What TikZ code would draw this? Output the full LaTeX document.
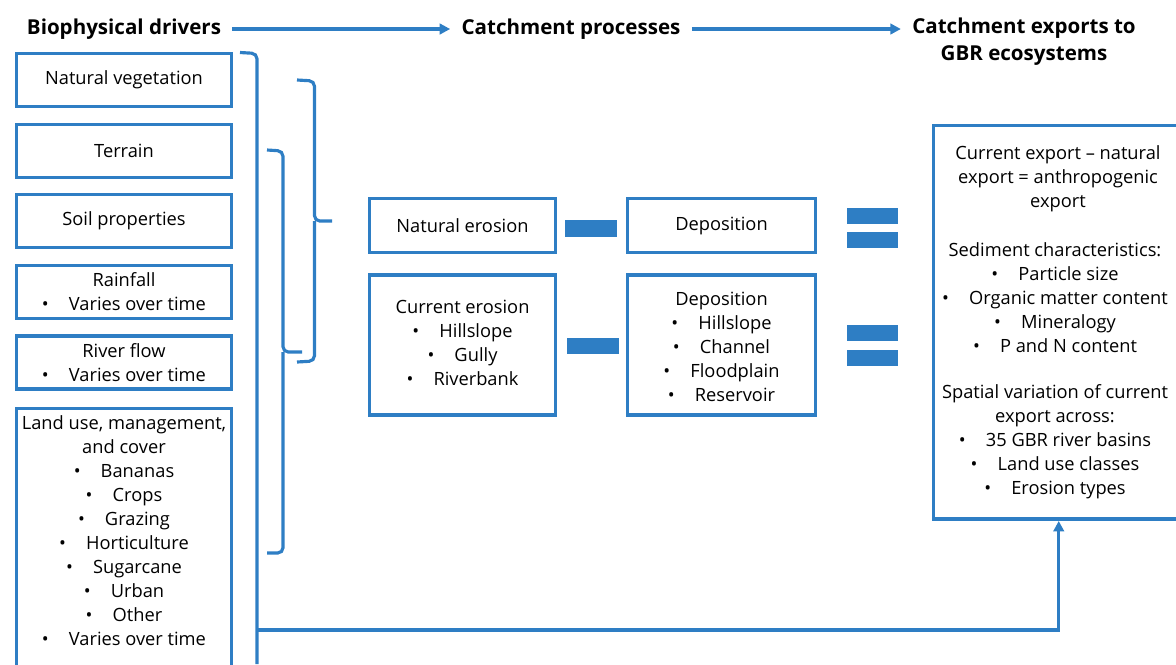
\documentclass[tikz,border=0pt]{standalone}
\usepackage{fontspec}
\setmainfont{Open Sans}
\usepackage{xcolor}
\usepackage{tikz}
\usetikzlibrary{arrows.meta}
\definecolor{gbrblue}{RGB}{46,126,196}
\newcommand{\bitem}[1]{\textbullet\hspace{1.1em}#1}
\tikzset{
  box/.style={draw=gbrblue, line width=2pt, inner sep=0pt, align=center},
  txt/.style={inner sep=0pt, align=center, font=\fontsize{10.4pt}{13.66pt}\selectfont},
  heading/.style={inner sep=0pt, outer sep=6.5pt, align=center, font=\fontsize{11.7pt}{15.3pt}\selectfont\bfseries},
  bracket/.style={draw=gbrblue, line width=1.8pt, rounded corners=3pt},
  flow/.style={draw=gbrblue, line width=1.8pt, -{Triangle[length=6pt, width=6pt]}},
  bar/.style={fill=gbrblue, draw=none}
}

\begin{document}
\begin{tikzpicture}[x=0.02cm, y=-0.02cm]
    \useasboundingbox (0,0) rectangle (1176,664);

    \node[heading] (hdrivers) at (124,29) {Biophysical drivers};
    \node[heading] (hprocesses) at (571,29) {Catchment processes};
    \node[heading] (hexports) at (1024,42) {Catchment exports to\\GBR ecosystems};

    \node[box, txt, minimum width=4.3cm, minimum height=1.06cm] (veg) at (124,80) {Natural vegetation};
    \node[box, txt, minimum width=4.3cm, minimum height=1.06cm] (terrain) at (124,151) {Terrain};
    \node[box, txt, minimum width=4.3cm, minimum height=1.06cm] (soil) at (124,221) {Soil properties};
    \node[box, txt, minimum width=4.3cm, minimum height=1.06cm] (rain) at (124,292) {Rainfall\\\bitem{Varies over time}};
    \node[box, txt, minimum width=4.3cm, minimum height=1.06cm] (riverflow) at (124,362.5) {River flow\\\bitem{Varies over time}};
    \node[box, minimum width=4.3cm, minimum height=6cm, anchor=north] (landbox) at (124,406.5) {};
    \node[txt] (landuse) at (124,531) {Land use, management,\\and cover\\\bitem{Bananas}\\\bitem{Crops}\\\bitem{Grazing}\\\bitem{Horticulture}\\\bitem{Sugarcane}\\\bitem{Urban}\\\bitem{Other}\\\bitem{Varies over time}};

    \node[box, txt, minimum width=3.72cm, minimum height=1.08cm] (naterosion) at (462.5,225.5) {Natural erosion};
    \node[box, txt, minimum width=3.76cm, minimum height=1.08cm] (natdep) at (721.5,225.5) {Deposition};
    \node[box, minimum width=3.72cm, minimum height=2.8cm] (curerosionbox) at (462.5,345) {};
    \node[txt] (curerosion) at (462.5,343) {Current erosion\\\bitem{Hillslope}\\\bitem{Gully}\\\bitem{Riverbank}};
    \node[box, minimum width=3.76cm, minimum height=2.8cm] (curdepbox) at (721.5,345) {};
    \node[txt] (curdep) at (721.5,347) {Deposition\\\bitem{Hillslope}\\\bitem{Channel}\\\bitem{Floodplain}\\\bitem{Reservoir}};

    \fill[bar] (565,220) rectangle (617,237);
    \fill[bar] (567,338) rectangle (619,354);
    \fill[bar] (847,208) rectangle (898,224);
    \fill[bar] (847,232) rectangle (898,248);
    \fill[bar] (847,325) rectangle (898,341);
    \fill[bar] (847,350) rectangle (898,366);

    \node[box, minimum width=5.02cm, minimum height=7.88cm, anchor=north west] (exports) at (931.5,123.5) {};
    \node[txt] (expdef) at (1058,179) {Current export -- natural\\export = anthropogenic\\export};
    \node[txt] (sedchar) at (1055,298) {Sediment characteristics:\\\bitem{Particle size}\\\bitem{Organic matter content}\\\bitem{Mineralogy}\\\bitem{P and N content}};
    \node[txt] (spatial) at (1055,442) {Spatial variation of current\\export across:\\\bitem{35 GBR river basins}\\\bitem{Land use classes}\\\bitem{Erosion types}};

    \draw[flow] (hdrivers.east) -- (hprocesses.west);
    \draw[flow] (hprocesses.east) -- (hprocesses.east -| hexports.west);

    \coordinate (brkfoot) at (257,630);
    \draw[bracket] (240,52.5) -- (257,53.5) -- (257,664);
    \draw[bracket] (267,150) -- (283,151) -- (283,352) -- (302,352);
    \draw[bracket] (267,553) -- (283,553) -- (283,352);
    \draw[bracket] (297,80) -- (314.5,81) -- (314.5,221) -- (332,221);
    \draw[bracket] (297,362) -- (314.5,361) -- (314.5,221);
    \draw[flow] (brkfoot) -| (exports.south);
\end{tikzpicture}
\end{document}
